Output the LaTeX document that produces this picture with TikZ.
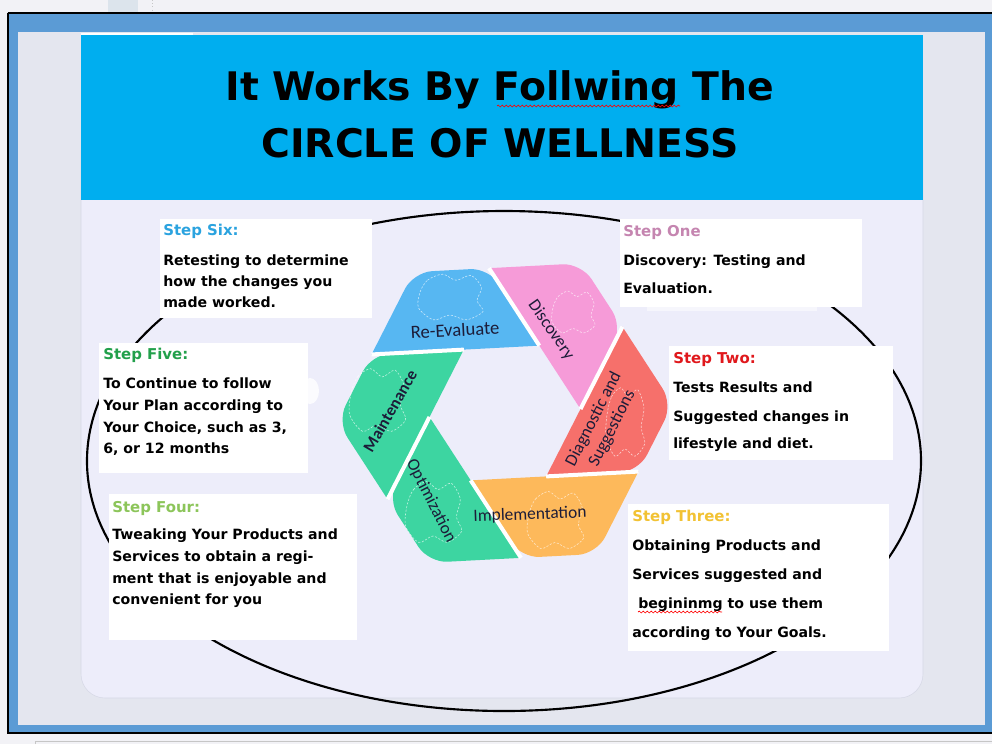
\documentclass[tikz,border=0pt]{standalone}
\usepackage{fontspec}
\setmainfont{DejaVu Sans}
\newfontfamily\labfont{Carlito}
\usetikzlibrary{fit,decorations.pathmorphing}

\definecolor{canvasbg}{HTML}{F2F2F6}
\definecolor{topgrey}{HTML}{DCE4EC}
\definecolor{frameblue}{HTML}{5B9BD5}
\definecolor{innerbg}{HTML}{E4E6EF}
\definecolor{headcyan}{HTML}{00AEEF}
\definecolor{panelbg}{HTML}{EDEDFA}
\definecolor{panelline}{HTML}{D6D8E6}
\definecolor{segblue}{HTML}{57B7F2}
\definecolor{segpink}{HTML}{F69BD8}
\definecolor{segred}{HTML}{F6706B}
\definecolor{segorange}{HTML}{FDB95B}
\definecolor{segteal}{HTML}{3DD5A1}
\definecolor{labink}{HTML}{1C1C38}
\definecolor{hsix}{HTML}{2BA3DF}
\definecolor{hfive}{HTML}{22A04B}
\definecolor{hfour}{HTML}{8CC55A}
\definecolor{hthree}{HTML}{F2C233}
\definecolor{htwo}{HTML}{E0181C}
\definecolor{hone}{HTML}{C585B0}

\newcommand\wellblob[4]{%
  \draw[cloudline, shift={(#1,#2)}, xscale=#3, yscale=#4]
    plot[smooth cycle] coordinates {(-20,-4) (-15,-14) (-5,-19) (4,-14) (14,-18) (21,-8) (18,3) (22,12) (11,19) (0,15) (-11,19) (-21,9)};}

\begin{document}
\begin{tikzpicture}[x=0.75pt,y=-0.75pt,
  stepbox/.style={fill=white, draw=none, inner sep=0pt},
  body/.style={font=\fontsize{10.6}{12}\selectfont\bfseries, text=black, inner sep=0pt, anchor=base west},
  head/.style={font=\fontsize{11.2}{12}\selectfont\bfseries, inner sep=0pt, anchor=base west},
  titletext/.style={font=\fontsize{29.5}{32}\selectfont\bfseries, text=black, inner sep=0pt, anchor=base},
  seglabel/.style={font=\labfont\fontsize{13}{15.5}\selectfont, text=labink, inner sep=0pt, align=center},
  gapline/.style={draw=white, line width=3pt},
  cloudline/.style={draw=white, draw opacity=0.65, dash pattern=on 1.6pt off 1.2pt, line width=0.45pt},
  spell/.style={draw=red, line width=0.5pt, decorate, decoration={snake, amplitude=0.7pt, segment length=3pt}},
  ring/.style={draw=black, line width=1.6pt}
]
\useasboundingbox (0,0) rectangle (992,744);
% ---- backgrounds ----
\fill[canvasbg] (0,0) rectangle (992,744);
\fill[topgrey] (108,0) rectangle (138,12);
\draw[gray!45, dotted] (152,0) -- (152,12);
\fill[frameblue] (8,13) rectangle (1000,732);
\fill[innerbg] (18,32) rectangle (985,725);
\draw[black, line width=1.5pt] (7.5,12.5) -- (1000,12.5);
\draw[black, line width=1.5pt] (7.5,12.5) -- (7.5,732.5) -- (1000,732.5);
\draw[gray!45] (35,744) -- (35,741) -- (992,741);
% ---- panel and header ----
\draw[panelline, fill=panelbg, rounded corners=18pt] (81,150) -- (81,698) -- (923,698) -- (923,150);
\fill[headcyan] (81,35) rectangle (923,200);
\fill[white] (81,33) rectangle (193,35);
\node[titletext] (t1) at (500,100) {It Works By Follwing The};
\node[titletext] (t2) at (500,157) {CIRCLE OF WELLNESS};
\draw[spell] (497,106) -- (680,106);
% ---- big ellipse ----
\draw[ring] (504,461) ellipse [x radius=417, y radius=250];
% ---- cycle geometry ----
\begin{scope}[shift={(505,413)}, rotate=3, yscale=-1]
\def\R{168}
\coordinate (W0) at ({-0.5*\R},{0.866*\R});
\coordinate (W1) at ({0.5*\R},{0.866*\R});
\coordinate (W2) at ({\R},0);
\coordinate (W3) at ({0.5*\R},{-0.866*\R});
\coordinate (W4) at ({-0.5*\R},{-0.866*\R});
\coordinate (W5) at ({-\R},0);
\coordinate (P0) at ({-0.05*\R},{0.866*\R});
\coordinate (P1) at ({0.725*\R},{0.4763*\R});
\coordinate (P2) at ({0.775*\R},{-0.3897*\R});
\coordinate (P3) at ({0.05*\R},{-0.866*\R});
\coordinate (P4) at ({-0.725*\R},{-0.4763*\R});
\coordinate (P5) at ({-0.775*\R},{0.3897*\R});
\coordinate (X0) at ({0.45*\R},0);
\coordinate (X1) at ({0.225*\R},{-0.3897*\R});
\coordinate (X2) at ({-0.225*\R},{-0.3897*\R});
\coordinate (X3) at ({-0.45*\R},0);
\coordinate (X4) at ({-0.225*\R},{0.3897*\R});
\coordinate (X5) at ({0.225*\R},{0.3897*\R});
\end{scope}
\fill[segblue]   (P5) [rounded corners=14pt] -- (W0) -- (P0) [sharp corners] -- (X5) -- cycle;
\fill[segpink]   (P0) [rounded corners=14pt] -- (W1) -- (P1) [sharp corners] -- (X0) -- cycle;
\fill[segred]    (P1) [rounded corners=14pt] -- (W2) -- (P2) [sharp corners] -- (X1) -- cycle;
\fill[segorange] (P2) [rounded corners=14pt] -- (W3) -- (P3) [sharp corners] -- (X2) -- cycle;
\fill[segteal]   (P3) [rounded corners=14pt] -- (W4) -- (P4) [sharp corners] -- (X3) -- cycle;
\fill[segteal]   (P4) [rounded corners=14pt] -- (W5) -- (P5) [sharp corners] -- (X4) -- cycle;
\draw[gapline] (P0) -- (X5);
\draw[gapline] (P1) -- (X0);
\draw[gapline] (P2) -- (X1);
\draw[gapline] (P3) -- (X2);
\draw[gapline] (P4) -- (X3);
\draw[gapline] (P5) -- (X4);
% ---- faint cloud marks ----
\wellblob{450}{297}{1.5}{1.2}
\wellblob{573}{312}{1.0}{1.1}
\wellblob{625}{422}{0.9}{1.8}
\wellblob{555}{520}{1.3}{1.5}
\wellblob{433}{512}{1.3}{1.6}
\wellblob{377}{400}{1.3}{1.65}
% ---- segment labels ----
\node[seglabel, font=\labfont\fontsize{14}{16}\selectfont, rotate=3] (l1) at (455,330) {Re-Evaluate};
\node[seglabel, rotate=-55] (l2) at (551,330) {Discovery};
\node[seglabel, rotate=63] (l3) at (603,424) {Diagnostic and\\Suggestions};
\node[seglabel, rotate=2] (l4) at (530,515) {Implementation};
\node[seglabel, rotate=-63] (l5) at (431,501) {Optimization};
\node[seglabel, font=\labfont\bfseries\fontsize{12.5}{15}\selectfont, rotate=60] (l6) at (390,411) {Maintenance};
% ---- step boxes ----
\node[stepbox, fit={(160,219) (372,318)}] (b6) {};
\node[stepbox, fit={(99,343) (308,473)}] (b5) {};
\fill[white, opacity=0.8] (310,391) ellipse [x radius=9, y radius=13];
\node[stepbox, fit={(109,494) (357,640)}] (b4) {};
\node[stepbox, fit={(620,219) (862,307)}] (b1) {};
\fill[white, opacity=0.55] (647,304) rectangle (817,311);
\node[stepbox, fit={(669,346) (893,460)}] (b2) {};
\node[stepbox, fit={(628,504) (889,651)}] (b3) {};
% Step Six
\node[head, text=hsix] (s6h) at (163,235) {Step Six:};
\node[body] (s6a) at (163,265) {Retesting to determine};
\node[body] (s6b) at (163,286) {how the changes you};
\node[body] (s6c) at (163,307) {made worked.};
% Step Five
\node[head, text=hfive] (s5h) at (103,359) {Step Five:};
\node[body] (s5a) at (103,388) {To Continue to follow};
\node[body] (s5b) at (103,410) {Your Plan according to};
\node[body] (s5c) at (103,432) {Your Choice, such as 3,};
\node[body] (s5d) at (103,453) {6, or 12 months};
% Step Four
\node[head, text=hfour] (s4h) at (112,512) {Step Four:};
\node[body] (s4a) at (112,539) {Tweaking Your Products and};
\node[body] (s4b) at (112,561) {Services to obtain a regi-};
\node[body] (s4c) at (112,583) {ment that is enjoyable and};
\node[body] (s4d) at (112,604) {convenient for you};
% Step One
\node[head, text=hone] (s1h) at (623,236) {Step One};
\node[body] (s1a) at (623,265) {Discovery: Testing and};
\node[body] (s1b) at (623,293) {Evaluation.};
% Step Two
\node[head, text=htwo] (s2h) at (673,363) {Step Two:};
\node[body] (s2a) at (673,392) {Tests Results and};
\node[body] (s2b) at (673,421) {Suggested changes in};
\node[body] (s2c) at (673,448) {lifestyle and diet.};
% Step Three
\node[head, text=hthree] (s3h) at (632,521) {Step Three:};
\node[body] (s3a) at (632,550) {Obtaining Products and};
\node[body] (s3b) at (632,579) {Services suggested and};
\node[body] (s3c) at (638,608) {begininmg to use them};
\node[body] (s3d) at (632,637) {according to Your Goals.};
\draw[spell] (638,612) -- (722,612);
\end{tikzpicture}
\end{document}
